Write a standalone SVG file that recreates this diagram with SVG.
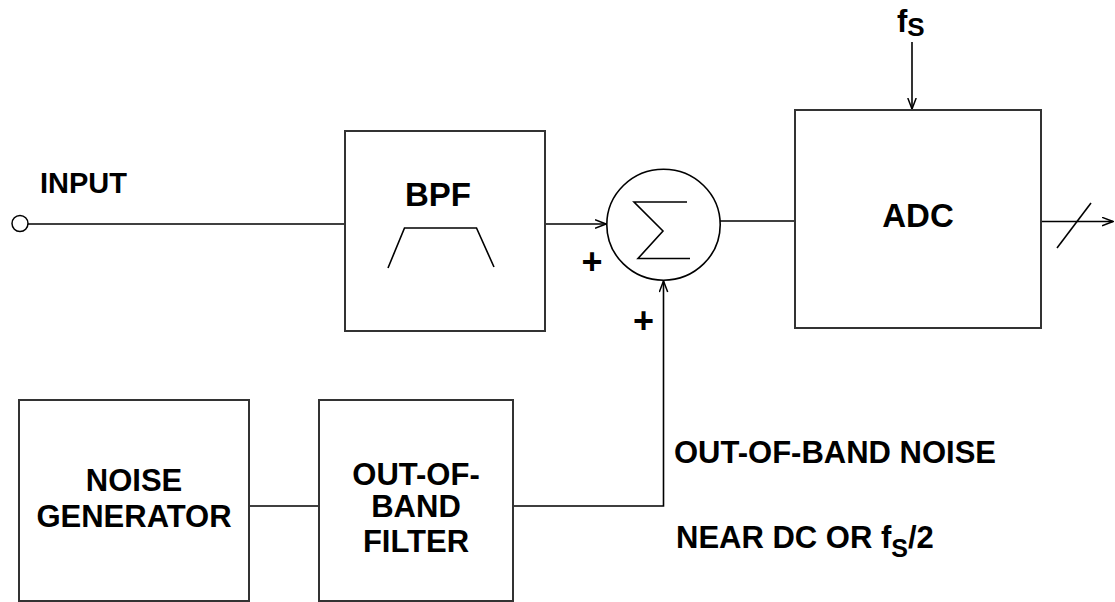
<svg xmlns="http://www.w3.org/2000/svg" width="1115" height="602" viewBox="0 0 1115 602">
<defs>
<style>
.box{fill:#fff;stroke:#333;stroke-width:2}
.ln{fill:none;stroke:#000;stroke-width:1.6}
.t{font-family:"Liberation Sans",Arial,sans-serif;font-weight:bold;fill:#000}
</style>
<marker id="arr" viewBox="0 0 12 10" refX="11.5" refY="5" markerWidth="12" markerHeight="10" markerUnits="userSpaceOnUse" orient="auto">
<path d="M0.5,0.8 L11.5,5 L0.5,9.2" fill="none" stroke="#000" stroke-width="1.5"/>
</marker>
</defs>
<rect width="1115" height="602" fill="#fff"/>
<g id="connectors">
<line class="ln" x1="28" y1="224" x2="345" y2="224"/>
<line class="ln" x1="545" y1="224" x2="606" y2="224" marker-end="url(#arr)"/>
<line class="ln" x1="720" y1="221" x2="795" y2="221"/>
<line class="ln" x1="912" y1="42" x2="912" y2="109" marker-end="url(#arr)"/>
<line class="ln" x1="1041" y1="221.5" x2="1113" y2="221.5" marker-end="url(#arr)"/>
<line class="ln" x1="1057" y1="248" x2="1091" y2="203"/>
<line class="ln" x1="249" y1="506" x2="319" y2="506"/>
<polyline class="ln" points="513,506 663.5,506 663.5,281" marker-end="url(#arr)"/>
</g>
<g id="input">
<circle cx="20" cy="223.5" r="8" fill="#fff" stroke="#000" stroke-width="1.5"/>
<text class="t" x="40" y="193" font-size="29">INPUT</text>
</g>
<g id="bpf">
<rect class="box" x="345" y="131" width="200" height="200"/>
<text class="t" x="438" y="206" font-size="33" text-anchor="middle">BPF</text>
<polyline class="ln" points="388,268 404.5,228 476.5,228 494,267"/>
</g>
<g id="sum">
<ellipse cx="663.5" cy="224.7" rx="56.7" ry="55.5" fill="#fff" stroke="#000" stroke-width="1.6"/>
<polyline class="ln" points="687,202 634,202 663,231 638,258.5 690,258.5"/>
<text class="t" x="592" y="274" font-size="36" text-anchor="middle">+</text>
<text class="t" x="643.5" y="332.5" font-size="36" text-anchor="middle">+</text>
</g>
<g id="adc">
<rect class="box" x="795" y="110" width="246" height="218"/>
<text class="t" x="918" y="227" font-size="33" text-anchor="middle">ADC</text>
<text class="t" x="897" y="31.5" font-size="31">f<tspan font-size="26" dy="4.5">S</tspan></text>
</g>
<g id="noise-generator">
<rect class="box" x="19" y="400" width="230" height="201"/>
<text class="t" x="134" y="491" font-size="31" text-anchor="middle">NOISE</text>
<text class="t" x="134" y="527" font-size="31" text-anchor="middle">GENERATOR</text>
</g>
<g id="out-of-band-filter">
<rect class="box" x="319" y="400" width="194" height="201"/>
<text class="t" x="416" y="485" font-size="31" text-anchor="middle">OUT-OF-</text>
<text class="t" x="416" y="517" font-size="31" text-anchor="middle">BAND</text>
<text class="t" x="416" y="552" font-size="31" text-anchor="middle">FILTER</text>
</g>
<g id="noise-label">
<text class="t" x="674" y="463" font-size="31">OUT-OF-BAND NOISE</text>
<text class="t" x="676" y="548" font-size="31">NEAR DC OR f<tspan font-size="25" dy="9">S</tspan><tspan dy="-9">/2</tspan></text>
</g>
</svg>
